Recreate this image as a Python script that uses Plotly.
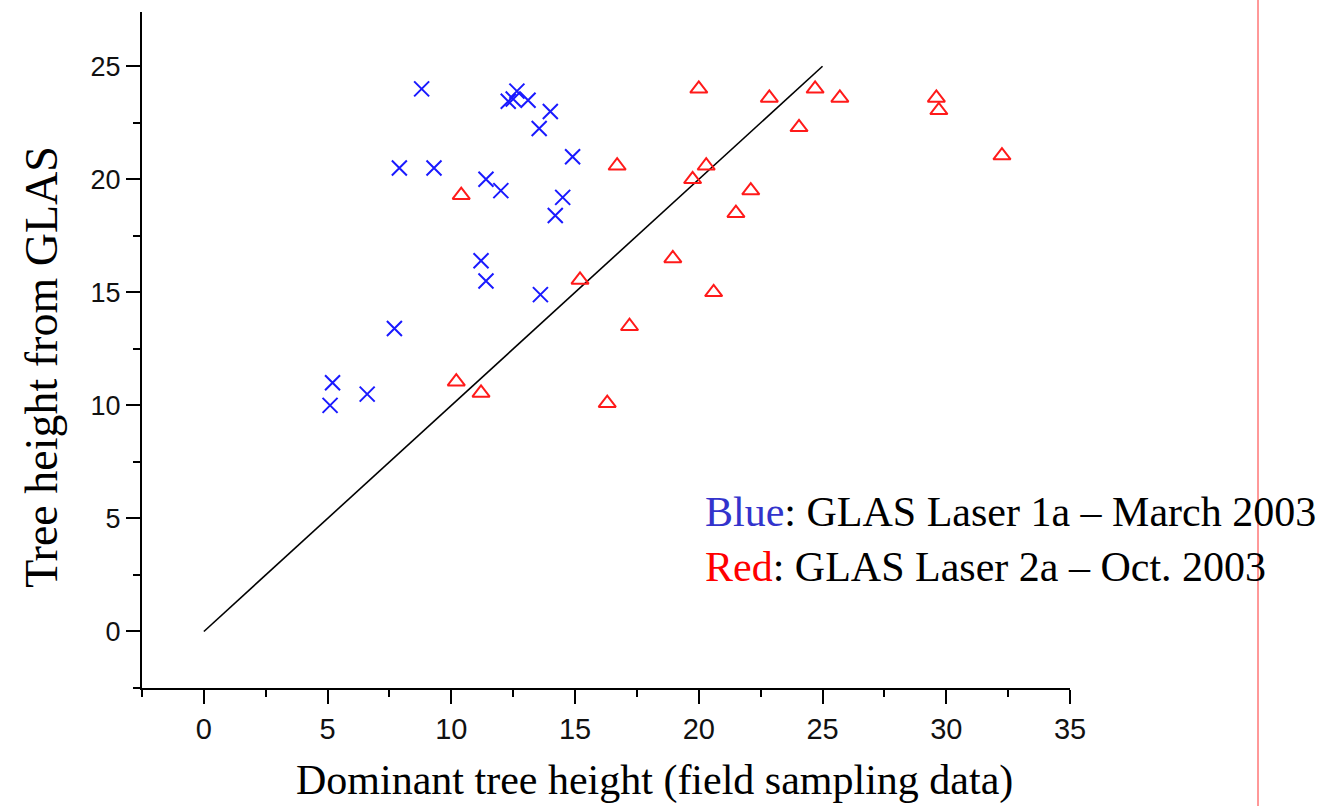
import plotly.graph_objects as go

# Blue: GLAS Laser 1a – March 2003
blue_x = [5.1, 5.2, 6.6, 7.7, 7.9, 8.8, 9.3, 11.2, 11.4, 11.4, 12.0, 12.3, 12.5, 12.65,
          13.1, 14.0, 13.55, 14.9, 14.5, 14.2, 13.6]
blue_y = [10.0, 11.0, 10.5, 13.4, 20.5, 24.0, 20.5, 16.4, 15.5, 20.0, 19.5, 23.45, 23.55, 23.9,
          23.5, 23.0, 22.25, 21.0, 19.2, 18.4, 14.9]

# Red: GLAS Laser 2a – Oct. 2003
red_x = [10.4, 10.2, 11.2, 15.2, 16.3, 16.7, 17.2, 18.95, 19.75, 20.0, 20.3, 20.6, 21.5,
         22.1, 22.85, 24.05, 24.7, 25.7, 29.6, 29.7, 32.25]
red_y = [19.3, 11.05, 10.55, 15.55, 10.1, 20.6, 13.5, 16.5, 20.0, 24.0, 20.6, 15.0, 18.5,
         19.5, 23.6, 22.3, 24.0, 23.6, 23.6, 23.05, 21.05]

# 1:1 reference line
line_x = [0, 25]
line_y = [0, 25]

x_ticks = [0, 5, 10, 15, 20, 25, 30, 35]
y_ticks = [0, 5, 10, 15, 20, 25]

fig = go.Figure()
fig.add_trace(go.Scatter(x=line_x, y=line_y, mode="lines",
                         line=dict(color="black", width=1.6), showlegend=False))
fig.add_trace(go.Scatter(x=blue_x, y=blue_y, mode="markers",
                         marker=dict(symbol="x-thin-open", size=15, color="#1a1aff",
                                     line=dict(color="#1a1aff", width=2)),
                         showlegend=False))
fig.add_trace(go.Scatter(x=red_x, y=red_y, mode="markers",
                         marker=dict(symbol="triangle-up-open", size=15, color="#ff1a1a",
                                     line=dict(color="#ff1a1a", width=2)),
                         showlegend=False))

axis_common = dict(showgrid=False, zeroline=False, showline=True, linecolor="black",
                   linewidth=2, ticks="outside", ticklen=14, tickwidth=2, tickcolor="black",
                   minor=dict(ticks="outside", ticklen=7, tickwidth=2, tickcolor="black",
                              dtick=2.5))

fig.update_xaxes(range=[-2.5, 35], tickmode="array", tickvals=x_ticks,
                 ticktext=[str(v) for v in x_ticks],
                 tickfont=dict(family="Arial", size=29, color="#111111"), **axis_common)
fig.update_yaxes(range=[-2.5, 27.4], tickmode="array", tickvals=y_ticks,
                 ticktext=[str(v) for v in y_ticks],
                 tickfont=dict(family="Arial", size=27, color="#111111"), **axis_common)

title_font_family = "Liberation Serif, Times New Roman"
fig.add_annotation(xref="paper", yref="paper", x=0.552, y=-0.1746, xanchor="center",
                   yanchor="bottom", showarrow=False,
                   text="Dominant tree height (field sampling data)",
                   font=dict(family=title_font_family, size=42, color="black"))
fig.add_annotation(xref="paper", yref="paper", x=-0.1078, y=0.475, xanchor="center",
                   yanchor="middle", showarrow=False, textangle=-90,
                   text="Tree height from GLAS",
                   font=dict(family=title_font_family, size=46, color="black"))

fig.add_annotation(xref="paper", yref="paper", x=0.605, y=0.219, xanchor="left",
                   yanchor="middle", showarrow=False, align="left",
                   text="<span style='color:#3333cc'>Blue</span>: GLAS Laser 1a \u2013 March 2003<br>"
                        "<span style='color:#ff0000'>Red</span>: GLAS Laser 2a \u2013 Oct. 2003",
                   font=dict(family=title_font_family, size=42, color="black"))

fig.add_shape(type="line", xref="paper", yref="paper", x0=1.2026, x1=1.2026, y0=-0.2,
              y1=1.02, line=dict(color="#ff3333", width=1))

fig.update_layout(width=1331, height=806, margin=dict(l=142, r=261, t=12, b=118),
                  plot_bgcolor="white", paper_bgcolor="white")

fig.write_html("out.html")
